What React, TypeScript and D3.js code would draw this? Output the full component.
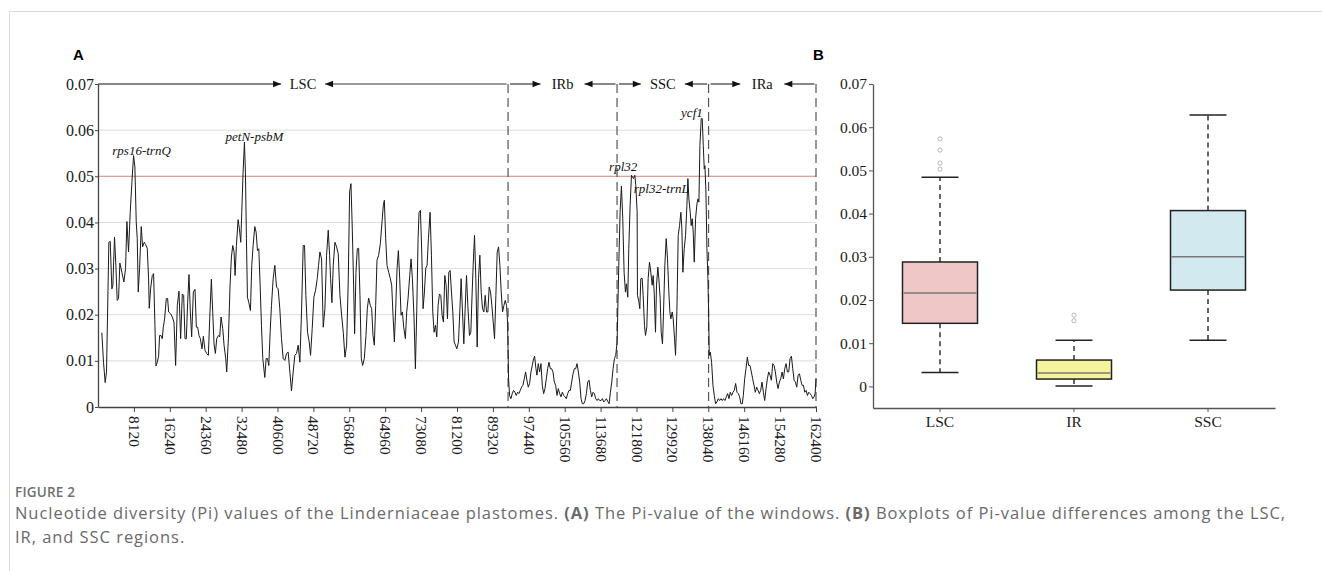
import React, { useEffect, useRef } from 'react';
import * as d3 from 'd3';

// sliding-window Pi values, [window position (bp), Pi], per plastome region
const lscWindows: [number, number][] = [
  [869, .0161], [1246, .0097], [1624, .0053], [1926, .0076], [2455, .0357], [2757, .0359], [3135, .0256], [3361, .0264], [3739, .0368], [4041, .0307],
  [4343, .0231], [4645, .0235], [4947, .0312], [5400, .0292], [5854, .0271], [6231, .0300], [6533, .0402], [6911, .0336], [7289, .0422], [7666, .0487],
  [8044, .0545], [8346, .0520], [8648, .0401], [8875, .0365], [9101, .0249], [9404, .0300], [9781, .0391], [10083, .0347], [10461, .0357], [10763, .0352],
  [11141, .0344], [11443, .0278], [11594, .0214], [11896, .0256], [12274, .0285], [12576, .0289], [12878, .0177], [13105, .0089], [13407, .0097], [13709, .0110],
  [13935, .0155], [14237, .0155], [14540, .0148], [14766, .0173], [15068, .0191], [15446, .0235], [15748, .0235], [15975, .0206], [16428, .0202], [16805, .0195],
  [17183, .0184], [17561, .0090], [17938, .0220], [18316, .0251], [18694, .0148], [19071, .0245], [19374, .0242], [19676, .0148], [19978, .0148], [20280, .0227],
  [20582, .0287], [20884, .0206], [21186, .0152], [21564, .0249], [21942, .0255], [22244, .0173], [22546, .0173], [22848, .0155], [23150, .0148], [23528, .0126],
  [23830, .0153], [24207, .0123], [24585, .0116], [24963, .0112], [25265, .0191], [25643, .0277], [25945, .0206], [26247, .0137], [26549, .0116], [26851, .0148],
  [27229, .0155], [27531, .0152], [27833, .0195], [28211, .0170], [28513, .0134], [28890, .0105], [29117, .0076], [29495, .0148], [29872, .0264], [30174, .0325],
  [30476, .0350], [30779, .0336], [31005, .0285], [31307, .0350], [31685, .0406], [31987, .0386], [32289, .0357], [32516, .0422], [32818, .0509], [33120, .0574],
  [33347, .0509], [33573, .0365], [33800, .0238], [34102, .0227], [34480, .0209], [34782, .0307], [35084, .0350], [35461, .0391], [35764, .0379], [36066, .0339],
  [36368, .0343], [36670, .0264], [36972, .0177], [37274, .0105], [37727, .0064], [38029, .0105], [38332, .0105], [38634, .0090], [38936, .0162], [39238, .0220],
  [39616, .0278], [39993, .0307], [40371, .0260], [40749, .0256], [41126, .0213], [41504, .0148], [41881, .0105], [42259, .0101], [42637, .0116], [43014, .0119],
  [43392, .0076], [43770, .0035], [44147, .0076], [44525, .0112], [44902, .0116], [45280, .0134], [45658, .0097], [46035, .0206], [46413, .0350], [46715, .0350],
  [47017, .0242], [47395, .0162], [47773, .0141], [48075, .0112], [48452, .0170], [48830, .0238], [49208, .0253], [49585, .0278], [49887, .0307], [50190, .0336],
  [50567, .0321], [50945, .0173], [51323, .0213], [51700, .0329], [52078, .0383], [52380, .0329], [52607, .0278], [52909, .0226], [53211, .0307], [53588, .0357],
  [53966, .0347], [54344, .0332], [54721, .0242], [55099, .0199], [55477, .0162], [55854, .0108], [56232, .0134], [56610, .0278], [56912, .0466], [57214, .0484],
  [57516, .0386], [57818, .0264], [58045, .0159], [58347, .0292], [58649, .0343], [58951, .0344], [59253, .0242], [59555, .0105], [59857, .0090], [60235, .0105],
  [60613, .0155], [60915, .0213], [61217, .0236], [61595, .0220], [61897, .0213], [62199, .0155], [62501, .0134], [62803, .0220], [63105, .0318], [63483, .0329],
  [63860, .0354], [64238, .0401], [64540, .0437], [64767, .0448], [65069, .0365], [65371, .0307], [65749, .0292], [66126, .0278], [66429, .0264], [66731, .0199],
  [67033, .0141], [67335, .0213], [67637, .0300], [67939, .0339], [68241, .0278], [68543, .0199], [68845, .0206], [69148, .0173], [69525, .0148], [69827, .0206],
  [70129, .0235], [70507, .0285], [70809, .0321], [71111, .0278], [71489, .0191], [71791, .0083], [72093, .0206], [72395, .0365], [72622, .0422], [72924, .0426],
  [73226, .0336], [73528, .0213], [73830, .0249], [74133, .0301], [74435, .0307], [74737, .0365], [75114, .0422], [75417, .0329], [75719, .0206], [76021, .0162],
  [76323, .0177], [76625, .0152], [76927, .0220], [77229, .0245], [77531, .0242], [77834, .0199], [78136, .0184], [78438, .0285], [78740, .0264], [79042, .0191],
  [79344, .0292], [79646, .0296], [79948, .0249], [80250, .0206], [80552, .0141], [80855, .0134], [81157, .0126], [81535, .0141], [81836, .0206], [82139, .0278],
  [82441, .0206], [82743, .0137], [83045, .0213], [83347, .0285], [83649, .0220], [84027, .0155], [84329, .0162], [84631, .0249], [84858, .0307], [85160, .0372],
  [85462, .0278], [85764, .0130], [86066, .0278], [86368, .0329], [86670, .0249], [86972, .0213], [87275, .0206], [87577, .0242], [87879, .0206], [88181, .0206],
  [88483, .0260], [88785, .0249], [89087, .0220], [89389, .0184], [89692, .0148], [89994, .0242], [90296, .0336], [90598, .0347], [90900, .0307], [91202, .0249],
  [91504, .0206], [91806, .0220], [92109, .0231], [92411, .0220], [92637, .0184],
];

const irbWindows: [number, number][] = [
  [92864, .0061], [93090, .0025], [93393, .0018], [93695, .0029], [93997, .0036], [94299, .0032], [94601, .0025], [94903, .0032], [95205, .0029], [95507, .0036],
  [95809, .0043], [96112, .0047], [96414, .0061], [96716, .0076], [97018, .0058], [97320, .0043], [97622, .0051], [97924, .0076], [98226, .0090], [98529, .0105],
  [98755, .0110], [99057, .0083], [99284, .0069], [99586, .0094], [99888, .0076], [100190, .0094], [100492, .0047], [100794, .0029], [101097, .0040], [101399, .0061],
  [101701, .0083], [102003, .0097], [102305, .0083], [102607, .0083], [102909, .0076], [103211, .0054], [103514, .0047], [103816, .0025], [104118, .0040], [104420, .0029],
  [104722, .0022], [105024, .0032], [105326, .0025], [105628, .0022], [105930, .0018], [106233, .0029], [106535, .0036], [106837, .0036], [107139, .0054], [107441, .0072],
  [107743, .0083], [108045, .0083], [108347, .0094], [108650, .0076], [108952, .0054], [109254, .0018], [109556, .0007], [109858, .0007], [110160, .0014], [110462, .0029],
  [110764, .0054], [111066, .0058], [111369, .0036], [111671, .0022], [111973, .0032], [112275, .0029], [112577, .0018], [112879, .0014], [113181, .0018], [113483, .0014],
  [113786, .0014], [114088, .0018], [114390, .0011], [114692, .0014], [114994, .0018], [115296, .0012], [115598, .0007], [115900, .0032], [116203, .0054], [116505, .0083],
  [116807, .0105], [117109, .0112],
];

const sscWindows: [number, number][] = [
  [117411, .0141], [117562, .0206], [117789, .0307], [118091, .0422], [118393, .0479], [118695, .0408], [118997, .0292], [119299, .0249], [119526, .0267], [119828, .0238],
  [120055, .0343], [120357, .0437], [120659, .0502], [120886, .0498], [121113, .0495], [121415, .0502], [121641, .0480], [121943, .0422], [122019, .0242], [122321, .0229],
  [122548, .0213], [122774, .0278], [123077, .0279], [123303, .0242], [123605, .0177], [123832, .0155], [124134, .0173], [124436, .0278], [124738, .0314], [125040, .0292],
  [125343, .0264], [125569, .0285], [125796, .0249], [126098, .0162], [126324, .0264], [126627, .0303], [126853, .0278], [127155, .0235], [127382, .0162], [127684, .0137],
  [127911, .0206], [128213, .0307], [128515, .0365], [128817, .0321], [129119, .0249], [129346, .0206], [129572, .0191], [129874, .0206], [130101, .0191], [130403, .0148],
  [130630, .0112], [130932, .0206], [131234, .0372], [131536, .0393], [131838, .0422], [132065, .0386], [132291, .0292], [132593, .0343], [132896, .0372], [133198, .0437],
  [133424, .0495], [133651, .0451], [133953, .0422], [134180, .0393], [134406, .0408], [134633, .0379], [134859, .0314], [135161, .0408], [135464, .0440], [135690, .0451],
  [135917, .0444], [136143, .0567], [136445, .0625], [136672, .0625], [136899, .0567], [137125, .0516], [137276, .0523], [137503, .0466], [137729, .0343], [137956, .0278],
];

const iraWindows: [number, number][] = [
  [138107, .0206], [138258, .0112], [138485, .0119], [138787, .0097], [139089, .0047], [139391, .0025], [139693, .0007], [139995, .0011], [140297, .0018], [140600, .0014],
  [140902, .0018], [141204, .0014], [141506, .0018], [141808, .0014], [142110, .0022], [142412, .0029], [142714, .0018], [143017, .0032], [143319, .0025], [143621, .0032],
  [143923, .0036], [144225, .0051], [144527, .0032], [144829, .0029], [145131, .0022], [145433, .0007], [145736, .0007], [145962, .0025], [146264, .0061], [146566, .0083],
  [146869, .0108], [147171, .0090], [147473, .0090], [147775, .0076], [148077, .0061], [148379, .0047], [148681, .0032], [148983, .0043], [149286, .0036], [149588, .0029],
  [149890, .0036], [150192, .0054], [150494, .0032], [150796, .0014], [151098, .0040], [151400, .0061], [151702, .0076], [152005, .0069], [152307, .0058], [152609, .0094],
  [152911, .0090], [153213, .0076], [153515, .0054], [153817, .0040], [154119, .0054], [154422, .0061], [154724, .0076], [155026, .0061], [155328, .0083], [155630, .0094],
  [155932, .0076], [156234, .0076], [156536, .0105], [156839, .0110], [157141, .0083], [157443, .0058], [157745, .0054], [158047, .0043], [158349, .0069], [158651, .0072],
  [158953, .0058], [159255, .0047], [159558, .0047], [159860, .0032], [160162, .0036], [160464, .0025], [160766, .0032], [161068, .0029], [161370, .0025], [161672, .0018],
  [161975, .0022], [162200, .0029], [162400, .0061],
];

const regionNames = ['LSC', 'IRb', 'SSC', 'IRa'];
const regionBounds = [0, 92750, 117400, 138100, 162400];
const xTicks = [8120, 16240, 24360, 32480, 40600, 48720, 56840, 64960, 73080, 81200, 89320, 97440, 105560, 113680, 121800, 129920, 138040, 146160, 154280, 162400];
const yTicks = [0, 0.01, 0.02, 0.03, 0.04, 0.05, 0.06, 0.07];
const piThreshold = 0.05;

// hotspot labels
const hotspotNames = ['rps16-trnQ', 'petN-psbM', 'rpl32', 'rpl32-trnL', 'ycf1'];
const hotspotPos = [8044, 33120, 121300, 121641, 136560];
const hotspotPi = [0.0545, 0.0574, 0.0502, 0.0480, 0.0625];

// boxplot summaries
const boxGroups = ['LSC', 'IR', 'SSC'];
const boxLow = [0.0032, 0.0001, 0.0107];
const boxQ1 = [0.0146, 0.0017, 0.0223];
const boxMedian = [0.0216, 0.0031, 0.0300];
const boxQ3 = [0.0288, 0.0061, 0.0407];
const boxHigh = [0.0484, 0.0107, 0.0628];
const boxOutliers = [[0.0503, 0.0517, 0.0547, 0.0573], [0.0152, 0.0165], []];
const boxFills = ['#efc7c6', '#f5f39c', '#d2e9ef'];

const SERIF = "'Liberation Serif', 'Times New Roman', serif";
const SANS = "'Open Sans', 'Noto Sans', sans-serif";
const BOLD_SANS = "'Liberation Sans', Arial, sans-serif";

export default function App() {
  const svgRef = useRef<SVGSVGElement>(null);

  useEffect(() => {
    const svg = d3.select(svgRef.current);
    svg.selectAll('*').remove();

    // figure frame
    svg.append('path').attr('d', 'M9.5,571V11.5H1322').attr('fill', 'none').attr('stroke', '#dadada');

    // ---------- Panel A ----------
    const x = d3.scaleLinear().domain([0, 162400]).range([98, 816]);
    const y = d3.scaleLinear().domain([0, 0.07]).range([407, 84]);
    const gA = svg.append('g');

    gA.selectAll('.grid').data(yTicks.filter(v => v > 0 && v < 0.07)).enter().append('line')
      .attr('x1', x(0)).attr('x2', x(162400)).attr('y1', d => y(d)).attr('y2', d => y(d))
      .attr('stroke', '#dcdcdc').attr('stroke-width', 1);

    gA.append('line').attr('x1', x(0)).attr('x2', x(162400)).attr('y1', y(piThreshold)).attr('y2', y(piThreshold))
      .attr('stroke', '#de8f82').attr('stroke-width', 1);

    gA.selectAll('.bound').data(regionBounds.slice(1)).enter().append('line')
      .attr('x1', d => x(d)).attr('x2', d => x(d)).attr('y1', y(0.07)).attr('y2', y(0))
      .attr('stroke', '#555').attr('stroke-width', 1.2).attr('stroke-dasharray', '9,5');

    const allWindows = [...lscWindows, ...irbWindows, ...sscWindows, ...iraWindows];
    const line = d3.line<[number, number]>().x(d => x(d[0])).y(d => y(d[1]));
    gA.append('path').datum(allWindows).attr('d', line).attr('fill', 'none')
      .attr('stroke', '#1a1a1a').attr('stroke-width', 1).attr('stroke-linejoin', 'round');

    const piFormat = (d: d3.NumberValue) => (+d === 0 ? '0' : d3.format('.2f')(+d));
    const yAxisA = gA.append('g').attr('transform', `translate(${x(0)},0)`)
      .call(d3.axisLeft(y).tickValues(yTicks).tickSize(3).tickSizeOuter(0).tickFormat(piFormat));
    const xAxisA = gA.append('g').attr('transform', `translate(0,${y(0)})`)
      .call(d3.axisBottom(x).tickValues(xTicks).tickSize(5).tickSizeOuter(0).tickFormat(d3.format('d')));
    [yAxisA, xAxisA].forEach(ax => {
      ax.attr('font-family', null).style('font-family', SERIF);
      ax.select('.domain').attr('stroke', '#444').attr('stroke-width', 1.3);
      ax.selectAll('.tick line').attr('stroke', '#444');
      ax.selectAll('text').style('font-family', SERIF).attr('fill', '#1a1a1a');
    });
    yAxisA.selectAll('text').style('font-size', '16px').attr('x', -4);
    xAxisA.selectAll('text').style('font-size', '15.5px')
      .attr('transform', 'rotate(90)').attr('text-anchor', 'start').attr('x', 9).attr('y', 0).attr('dy', '0.35em');

    // region arrows along the top
    const arrowY = y(0.07);
    const head = (tipX: number, dir: number) => `M${tipX},${arrowY}L${tipX - dir * 8},${arrowY - 3.2}L${tipX - dir * 8},${arrowY + 3.2}Z`;
    regionNames.forEach((name, i) => {
      const x0 = x(regionBounds[i]) + (i === 0 ? 0 : 2);
      const x1 = x(regionBounds[i + 1]) - 1.5;
      const cx = (x(regionBounds[i]) + x(regionBounds[i + 1])) / 2;
      const gap = 22;
      const rightColor = i === 0 ? '#777' : '#111';
      gA.append('line').attr('x1', x0).attr('x2', cx - gap).attr('y1', arrowY).attr('y2', arrowY).attr('stroke', '#111').attr('stroke-width', 1);
      gA.append('path').attr('d', head(cx - gap, 1)).attr('fill', '#111');
      gA.append('line').attr('x1', x1).attr('x2', cx + gap).attr('y1', arrowY).attr('y2', arrowY).attr('stroke', rightColor).attr('stroke-width', i === 0 ? 1.6 : 1);
      gA.append('path').attr('d', head(cx + gap, -1)).attr('fill', '#111');
      gA.append('text').attr('x', cx).attr('y', arrowY).attr('dy', '0.35em').attr('text-anchor', 'middle')
        .style('font-family', SERIF).style('font-size', '14.5px').attr('fill', '#111').text(name);
    });

    // hotspot labels
    const labelStyle = [
      { anchor: 'middle', dx: 8, dy: -1 },
      { anchor: 'middle', dx: 10, dy: -1 },
      { anchor: 'end', dx: 3, dy: -4 },
      { anchor: 'start', dx: -2, dy: 7 },
      { anchor: 'end', dx: 1, dy: -2 },
    ];
    hotspotNames.forEach((name, i) => {
      gA.append('text').attr('x', x(hotspotPos[i]) + labelStyle[i].dx).attr('y', y(hotspotPi[i]) + labelStyle[i].dy)
        .attr('text-anchor', labelStyle[i].anchor).style('font-family', SERIF).style('font-style', 'italic')
        .style('font-size', '13px').attr('fill', '#111').text(name);
    });

    svg.append('text').attr('x', 73).attr('y', 60).style('font-family', BOLD_SANS)
      .style('font-weight', 'bold').style('font-size', '15px').attr('fill', '#000').text('A');

    // ---------- Panel B ----------
    const xB = d3.scaleBand().domain(boxGroups).range([873, 1275]);
    const yB = d3.scaleLinear().domain([-0.005, 0.07]).range([408, 84]);
    const gB = svg.append('g');
    const boxW = 75;
    const capW = 37;

    boxGroups.forEach((grp, i) => {
      const cx = (xB(grp) as number) + xB.bandwidth() / 2;
      const whisker = (a: number, b: number) => gB.append('line').attr('x1', cx).attr('x2', cx).attr('y1', yB(a)).attr('y2', yB(b))
        .attr('stroke', '#333').attr('stroke-width', 1.5).attr('stroke-dasharray', '5,4');
      whisker(boxQ3[i], boxHigh[i]);
      whisker(boxQ1[i], boxLow[i]);
      [boxLow[i], boxHigh[i]].forEach(v => gB.append('line').attr('x1', cx - capW / 2).attr('x2', cx + capW / 2)
        .attr('y1', yB(v)).attr('y2', yB(v)).attr('stroke', '#222').attr('stroke-width', 1.5));
      gB.append('rect').attr('x', cx - boxW / 2).attr('width', boxW).attr('y', yB(boxQ3[i])).attr('height', yB(boxQ1[i]) - yB(boxQ3[i]))
        .attr('fill', boxFills[i]).attr('stroke', '#222').attr('stroke-width', 1.5);
      gB.append('line').attr('x1', cx - boxW / 2 + 1).attr('x2', cx + boxW / 2 - 1).attr('y1', yB(boxMedian[i])).attr('y2', yB(boxMedian[i]))
        .attr('stroke', '#7a7a7a').attr('stroke-width', 1.5);
      gB.selectAll(`.out${i}`).data(boxOutliers[i]).enter().append('circle')
        .attr('cx', cx).attr('cy', d => yB(d)).attr('r', 2.1).attr('fill', 'none').attr('stroke', '#a5a5a5').attr('stroke-width', 0.8);
    });

    const yAxisB = gB.append('g').attr('transform', 'translate(873,0)')
      .call(d3.axisLeft(yB).tickValues(yTicks).tickSize(4).tickSizeOuter(0).tickFormat(piFormat));
    const xAxisB = gB.append('g').attr('transform', `translate(0,${yB.range()[0]})`)
      .call(d3.axisBottom(xB).tickSize(4).tickSizeOuter(0));
    [yAxisB, xAxisB].forEach(ax => {
      ax.attr('font-family', null).style('font-family', SERIF);
      ax.select('.domain').attr('stroke', '#555').attr('stroke-width', 1.3);
      ax.selectAll('.tick line').attr('stroke', '#555');
      ax.selectAll('text').style('font-family', SERIF).style('font-size', '15.5px').attr('fill', '#1a1a1a');
    });
    yAxisB.selectAll('text').attr('x', -6);
    xAxisB.selectAll('text').attr('y', 8);

    svg.append('text').attr('x', 813).attr('y', 60).style('font-family', BOLD_SANS)
      .style('font-weight', 'bold').style('font-size', '15px').attr('fill', '#000').text('B');
  }, []);

  return (
    <div style={{ position: 'absolute', left: 0, top: 0 }}>
      <svg ref={svgRef} width={1322} height={571} style={{ display: 'block' }} />
      <svg width={1322} height={571} style={{ position: 'absolute', left: 0, top: 0, pointerEvents: 'none' }}>
        <text x={15} y={497} style={{ fontFamily: SANS, fontSize: '13.5px', fontWeight: 600, letterSpacing: '0.2px' }} fill="#707070">FIGURE 2</text>
        <text x={15} y={519} style={{ fontFamily: SANS, fontSize: '16.5px', letterSpacing: '0.95px' }} fill="#6a6a6a">
          Nucleotide diversity (Pi) values of the Linderniaceae plastomes. <tspan style={{ fontWeight: 700 }}>(A)</tspan> The Pi-value of the windows. <tspan style={{ fontWeight: 700 }}>(B)</tspan> Boxplots of Pi-value differences among the LSC,
        </text>
        <text x={15} y={543} style={{ fontFamily: SANS, fontSize: '16.5px', letterSpacing: '0.95px' }} fill="#6a6a6a">IR, and SSC regions.</text>
      </svg>
    </div>
  );
}
